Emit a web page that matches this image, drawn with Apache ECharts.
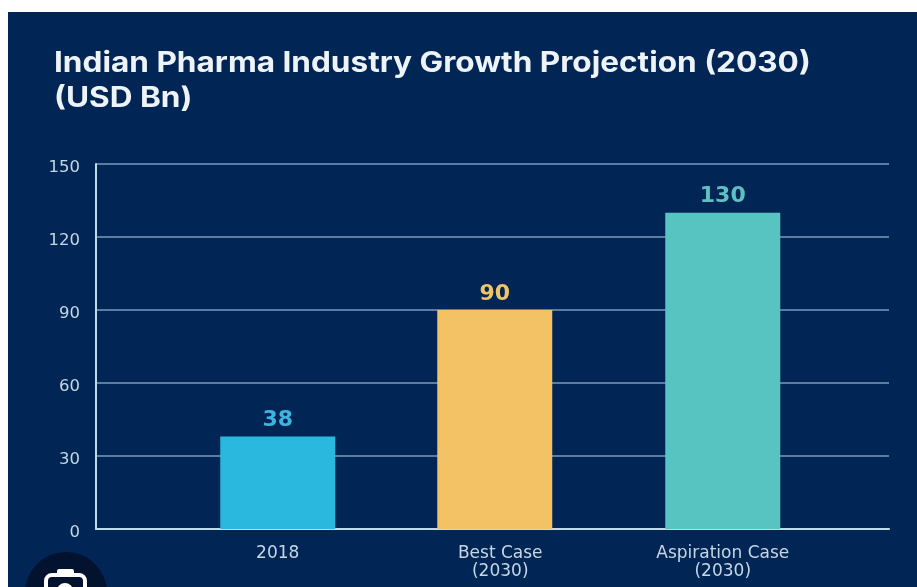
<!DOCTYPE html>
<html>
<head>
<meta charset="utf-8">
<style>html,body{margin:0;padding:0;background:#fff}#c{width:917px;height:587px}</style>
<script src="https://cdn.jsdelivr.net/npm/echarts@6/dist/echarts.min.js"></script>
</head>
<body>
<div id="c"></div>
<script>
const titleLines = ['Indian Pharma Industry Growth Projection (2030)', '(USD Bn)'];
const categories = ['2018', 'Best Case\n(2030)', 'Aspiration Case\n(2030)'];
const sideValues = [38, null, 130];
const middleValues = [null, 90, null];
const barColors = ['#2bb8df', '#f2c265', '#58c4c2'];
const labelColors = ['#3fb4dc', '#f0c468', '#5ec0c0'];
const yMax = 150;
const yStep = 30;

const FONT = '"DejaVu Sans", sans-serif';
const AXIS_TEXT = '#c6d6e4';

function barData(values) {
  return values.map((v, i) => v === null ? null : {
    value: v,
    itemStyle: { color: barColors[i] },
    label: { color: labelColors[i] }
  });
}

const hiddenY = idx => ({
  type: 'value', gridIndex: idx, min: 0, max: yMax, interval: yStep, show: false
});

const barSeries = (axisIdx, values) => ({
  type: 'bar',
  xAxisIndex: axisIdx,
  yAxisIndex: axisIdx,
  barWidth: 115,
  data: barData(values),
  label: {
    show: true,
    position: 'top',
    distance: 5,
    fontFamily: FONT,
    fontSize: 22,
    fontWeight: 'bold'
  }
});

const chart = echarts.init(document.getElementById('c'), null, { renderer: 'canvas' });
chart.setOption({
  animation: false,
  backgroundColor: '#ffffff',
  graphic: [
    { type: 'rect', z: -10, silent: true,
      shape: { x: 8, y: 12, width: 909, height: 575 },
      style: { fill: '#012655' } },
    { type: 'circle', z: 20, silent: true,
      shape: { cx: 66, cy: 593, r: 41 },
      style: { fill: '#02122f' } },
    { type: 'rect', z: 21, silent: true,
      shape: { x: 46, y: 575, width: 39, height: 28, r: 6 },
      style: { fill: 'none', stroke: '#ffffff', lineWidth: 4 } },
    { type: 'rect', z: 21, silent: true,
      shape: { x: 57, y: 569, width: 17, height: 6, r: 2 },
      style: { fill: '#ffffff' } },
    { type: 'circle', z: 21, silent: true,
      shape: { cx: 65, cy: 591, r: 8 },
      style: { fill: '#ffffff' } },
    // Heading set in a widened Inter
    { type: 'text', z: 10, silent: true, x: 54, y: 46, scaleX: 1.127,
      style: {
        text: titleLines.join('\n'),
        fontFamily: 'Inter, sans-serif',
        fontSize: 28,
        fontWeight: 'bold',
        lineHeight: 35,
        fill: '#eef3f7'
      } }
  ],
  // Frame grid holds the scale and rules; the inset grids hold the bars.
  grid: [
    { left: 96, top: 164, width: 793, height: 365 },
    { left: 166.5, top: 164, width: 667.5, height: 365 },
    { left: 161, top: 164, width: 667.5, height: 365 }
  ],
  xAxis: [
    { type: 'category', gridIndex: 0, data: ['', '', ''],
      axisLine: { lineStyle: { color: '#bcdcea', width: 2 } },
      axisTick: { show: false }, axisLabel: { show: false } },
    { type: 'category', gridIndex: 1, data: categories,
      axisLine: { show: false }, axisTick: { show: false },
      axisLabel: { margin: 16, fontFamily: FONT, fontSize: 17, lineHeight: 18, color: AXIS_TEXT } },
    { type: 'category', gridIndex: 2, data: categories, show: false }
  ],
  yAxis: [
    { type: 'value', gridIndex: 0, min: 0, max: yMax, interval: yStep,
      axisLine: { show: true, lineStyle: { color: '#bcdcea', width: 2 } },
      axisTick: { show: false },
      splitLine: { lineStyle: { color: '#7d9abb', width: 1.5 } },
      axisLabel: { margin: 16, fontFamily: FONT, fontSize: 16.5, color: AXIS_TEXT, verticalAlign: 'top', padding: [-5, 0, 0, 0] } },
    hiddenY(1),
    hiddenY(2)
  ],
  series: [
    barSeries(1, sideValues),
    barSeries(2, middleValues)
  ]
});
</script>
</body>
</html>
